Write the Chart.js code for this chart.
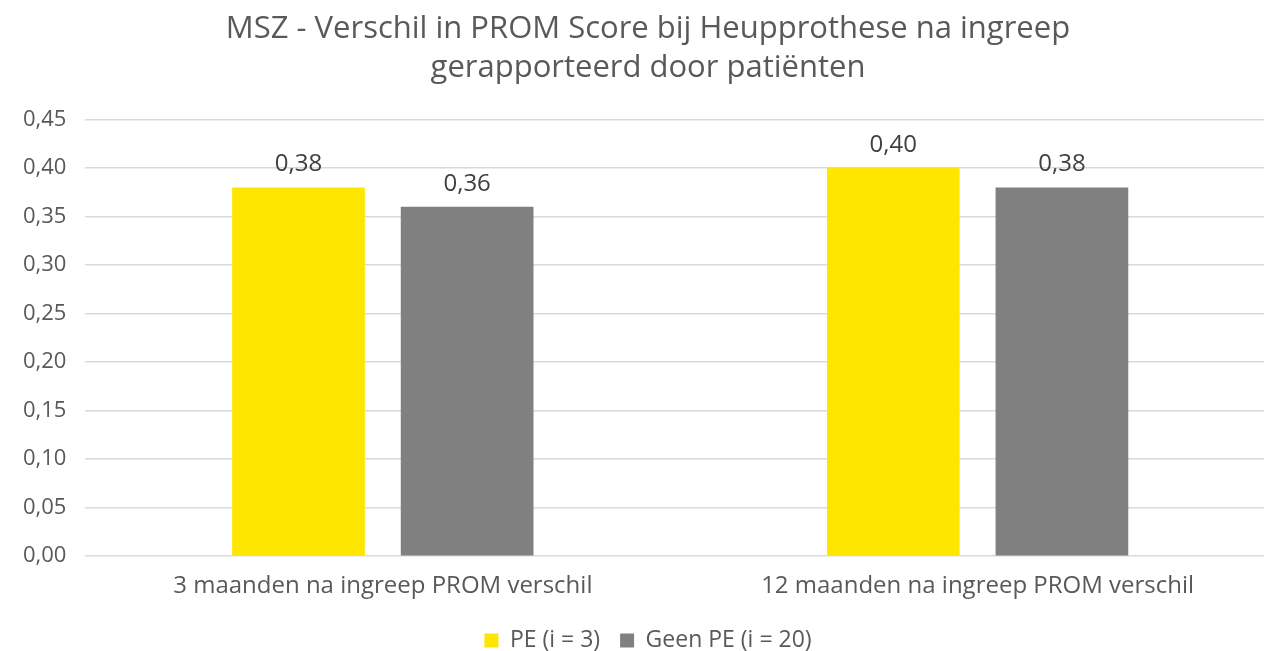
<!DOCTYPE html>
<html>
<head>
<meta charset="utf-8">
<script src="https://cdn.jsdelivr.net/npm/chart.js@4/dist/chart.umd.min.js"></script>
<style>
html,body{margin:0;padding:0;background:#fff;overflow:hidden;}
#wrap{width:1292px;height:662px;position:relative;}
</style>
</head>
<body>
<div id="wrap"><canvas id="c"></canvas></div>
<script>
const categories = ["3 maanden na ingreep PROM verschil", "12 maanden na ingreep PROM verschil"];
const seriesNames = ["PE (i = 3)", "Geen PE (i = 20)"];
const peValues = [0.38, 0.40];
const geenPeValues = [0.36, 0.38];
const titleLines = ["MSZ - Verschil in PROM Score bij Heupprothese na ingreep", "gerapporteerd door patiënten"];

const FONT = "'Open Sans', sans-serif";
const fmt = v => Number(v).toFixed(2).replace('.', ',');

const valueLabels = {
  id: 'valueLabels',
  afterDatasetsDraw(chart) {
    const ctx = chart.ctx;
    ctx.save();
    ctx.fillStyle = '#404040';
    ctx.font = "24px " + FONT;
    ctx.textAlign = 'center';
    ctx.textBaseline = 'alphabetic';
    chart.data.datasets.forEach((ds, i) => {
      const meta = chart.getDatasetMeta(i);
      meta.data.forEach((bar, j) => {
        ctx.fillText(fmt(ds.data[j]), bar.x, bar.y - 16);
      });
    });
    ctx.restore();
  }
};

new Chart(document.getElementById('c'), {
  type: 'bar',
  data: {
    labels: categories,
    datasets: [
      { label: seriesNames[0], data: peValues, backgroundColor: '#FFE600', categoryPercentage: 0.567, barPercentage: 0.787 },
      { label: seriesNames[1], data: geenPeValues, backgroundColor: '#808080', categoryPercentage: 0.567, barPercentage: 0.787 }
    ]
  },
  options: {
    responsive: true,
    maintainAspectRatio: false,
    animation: false,
    layout: { padding: { left: 4, right: 0, top: 10, bottom: 0 } },
    plugins: {
      title: {
        display: true,
        text: titleLines,
        color: '#595959',
        font: { family: FONT, size: 31, weight: 'normal', lineHeight: 1.25 },
        padding: { top: 0, bottom: 32 }
      },
      legend: {
        position: 'bottom',
        labels: {
          color: '#595959',
          font: { family: FONT, size: 23 },
          boxWidth: 14, boxHeight: 14, padding: 20
        }
      },
      tooltip: { enabled: false }
    },
    scales: {
      x: {
        grid: { display: false },
        border: { display: false },
        ticks: { color: '#595959', font: { family: FONT, size: 24 }, padding: 8 }
      },
      y: {
        min: 0, max: 0.45,
        grid: { color: '#d9d9d9', lineWidth: 1.5, drawTicks: false },
        border: { display: false },
        ticks: { stepSize: 0.05, color: '#595959', font: { family: FONT, size: 22 }, padding: 19, callback: v => fmt(v) }
      },
      yPad: {
        position: 'right',
        min: 0, max: 1,
        grid: { display: false, drawTicks: false },
        border: { display: false },
        ticks: { display: false },
        afterFit: s => { s.width = 17; }
      }
    }
  },
  plugins: [valueLabels]
});
</script>
</body>
</html>
